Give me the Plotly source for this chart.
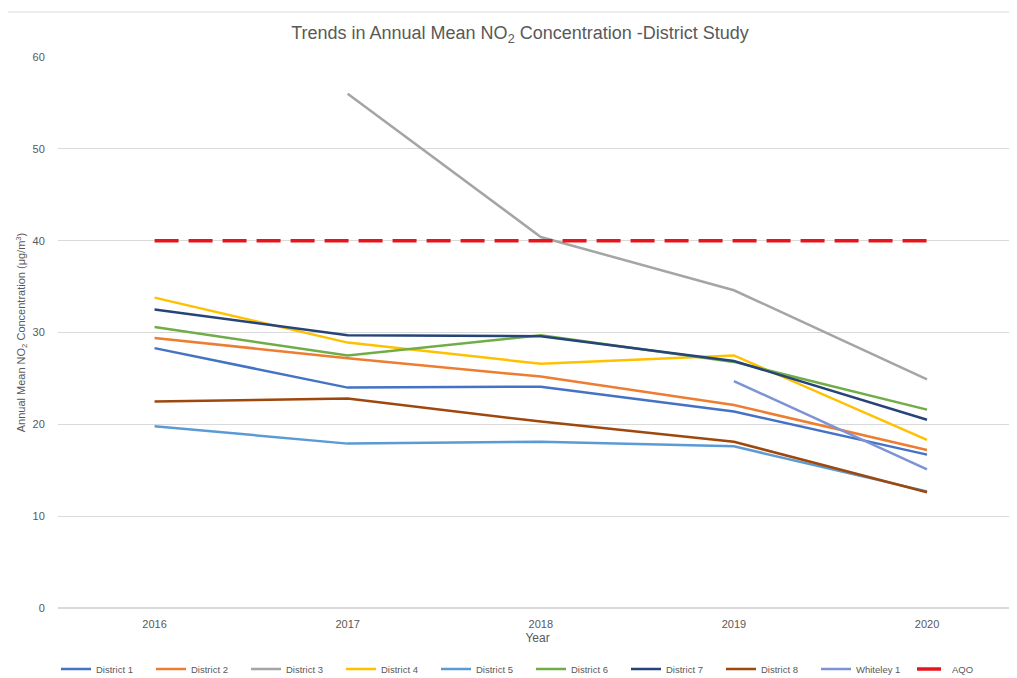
import plotly.graph_objects as go

years = ["2016", "2017", "2018", "2019", "2020"]
district1 = [28.3, 24.0, 24.1, 21.4, 16.7]
district2 = [29.4, 27.2, 25.2, 22.1, 17.2]
district3 = [None, 56.0, 40.4, 34.6, 24.9]
district4 = [33.8, 28.9, 26.6, 27.5, 18.3]
district5 = [19.8, 17.9, 18.1, 17.6, 12.7]
district6 = [30.6, 27.5, 29.7, 26.8, 21.6]
district7 = [32.5, 29.7, 29.6, 26.9, 20.5]
district8 = [22.5, 22.8, 20.3, 18.1, 12.6]
whiteley1 = [None, None, None, 24.7, 15.1]
aqo = [40, 40, 40, 40, 40]

series = [
    ("District 1", district1, "#4472C4"),
    ("District 2", district2, "#ED7D31"),
    ("District 3", district3, "#A5A5A5"),
    ("District 4", district4, "#FFC000"),
    ("District 5", district5, "#5B9BD5"),
    ("District 6", district6, "#70AD47"),
    ("District 7", district7, "#264478"),
    ("District 8", district8, "#9E480E"),
    ("Whiteley 1", whiteley1, "#7C93D6"),
]

fig = go.Figure()
for name, vals, col in series:
    fig.add_trace(go.Scatter(x=years, y=vals, name=name, mode="lines",
                             line=dict(color=col, width=2.5), legend="legend"))
fig.add_trace(go.Scatter(x=years, y=aqo, name="AQO", mode="lines", legend="legend2",
                         line=dict(color="#E8141B", width=3.5, dash="24px,10px")))

legend_common = dict(orientation="h", xref="container", xanchor="left",
                     y=9 / 670, yref="container", yanchor="middle",
                     entrywidth=50, entrywidthmode="pixels", itemwidth=30,
                     font=dict(size=9.5, color="#595959"), traceorder="normal")

fig.update_layout(
    width=1009, height=670,
    paper_bgcolor="white", plot_bgcolor="white",
    margin=dict(l=50, r=0, t=49, b=70),
    font=dict(family="Liberation Sans, Arial, sans-serif", color="#595959", size=11),
    title=dict(text="Trends in Annual Mean NO<sub>2</sub> Concentration -District Study",
               x=0.5074, xref="container", xanchor="center", y=1 - 25 / 670, yanchor="middle",
               font=dict(size=18, color="#595959")),
    showlegend=True,
    legend=dict(x=48 / 1009, **legend_common),
    legend2=dict(x=904 / 1009, **legend_common),
    shapes=[dict(type="line", xref="paper", yref="paper", x0=-0.053, x1=1,
                 y0=1 + 45 / 551, y1=1 + 45 / 551,
                 line=dict(color="#D9D9D9", width=1))],
)
fig.update_xaxes(type="category", range=[-0.5, 4.466], showgrid=False, zeroline=False,
                 showline=False, ticks="outside", ticklen=6, tickcolor="rgba(0,0,0,0)",
                 tickfont=dict(size=11, color="#595959"),
                 title=dict(text="Year", font=dict(size=12, color="#595959"), standoff=4))
fig.update_yaxes(range=[0, 60], dtick=10, showgrid=True, gridcolor="#D9D9D9", gridwidth=1,
                 zeroline=True, zerolinecolor="#D9D9D9", showline=False,
                 ticks="outside", ticklen=10, tickcolor="rgba(0,0,0,0)",
                 tickfont=dict(size=11, color="#595959"),
                 title=dict(text="Annual Mean NO<sub>2</sub> Concentration (μg/m<sup>3</sup>)",
                            font=dict(size=11, color="#595959"), standoff=4))

fig.write_html("out.html")
